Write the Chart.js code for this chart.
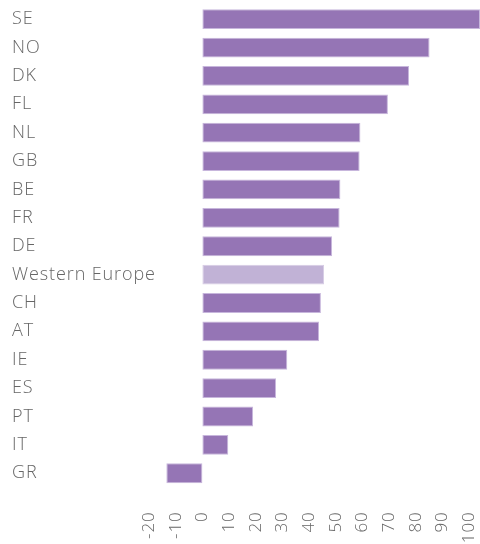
<!DOCTYPE html>
<html>
<head>
<meta charset="utf-8">
<script src="https://cdn.jsdelivr.net/npm/chart.js@4/dist/chart.umd.min.js"></script>
<style>
  html, body { margin: 0; padding: 0; background: #fff; }
  #wrap { width: 480px; height: 544px; position: relative; }
</style>
</head>
<body>
<div id="wrap"><canvas id="c"></canvas></div>
<script>
// Countries ordered from highest to lowest score
const categories = ['SE', 'NO', 'DK', 'FL', 'NL', 'GB', 'BE', 'FR', 'DE', 'Western Europe', 'CH', 'AT', 'IE', 'ES', 'PT', 'IT', 'GR'];
const scores = [104, 85.1, 77.4, 69.5, 59.2, 58.9, 51.7, 51.4, 48.6, 45.6, 44.4, 43.7, 31.8, 27.6, 19.0, 9.7, -13.5];
const xTickValues = [-20, -10, 0, 10, 20, 30, 40, 50, 60, 70, 80, 90, 100];

const barColor = '#9575b5';
const barBorder = '#c7b6dc';
const avgColor = '#c1b2d6';
const avgBorder = '#d6cbe4';

const fillColors = categories.map(c => c === 'Western Europe' ? avgColor : barColor);
const edgeColors = categories.map(c => c === 'Western Europe' ? avgBorder : barBorder);

// Category names are set slightly tracked out; the value axis is drawn without tracking
const tracking = {
  id: 'tracking',
  beforeDraw(chart) { chart.ctx.letterSpacing = '0.9px'; },
  beforeDatasetsDraw(chart) { chart.ctx.letterSpacing = '0px'; }
};

new Chart(document.getElementById('c'), {
  type: 'bar',
  data: {
    labels: categories,
    datasets: [{
      data: scores,
      backgroundColor: fillColors,
      borderColor: edgeColors,
      borderWidth: 1,
      borderSkipped: false,
      barPercentage: 0.7,
      categoryPercentage: 1.0
    }]
  },
  plugins: [tracking],
  options: {
    indexAxis: 'y',
    responsive: true,
    maintainAspectRatio: false,
    animation: false,
    layout: { padding: { left: 12, right: 0, top: 5, bottom: 1.5 } },
    plugins: {
      legend: { display: false },
      tooltip: { enabled: false }
    },
    scales: {
      x: {
        z: 1,
        min: -20,
        max: 104,
        grid: { display: false, drawTicks: true, tickLength: 22 },
        border: { display: false },
        afterBuildTicks: (axis) => {
          axis.ticks = xTickValues.map(v => ({ value: v }));
        },
        afterFit: (axis) => {
          // let the plot run to the canvas edges
          axis.paddingLeft = 0;
          axis.paddingRight = 0;
        },
        ticks: {
          minRotation: 90,
          maxRotation: 90,
          padding: 2,
          color: '#666',
          font: { family: 'Open Sans', size: 17, weight: 300 }
        }
      },
      y: {
        z: 0,
        grid: { display: false, drawTicks: false },
        border: { display: false },
        afterFit: (axis) => {
          axis.width = 137;
          axis.paddingTop = 0;
          axis.paddingBottom = 0;
          // long names may run past the axis box, so draw labels unclipped
          axis._computeLabelArea = () => undefined;
        },
        ticks: {
          crossAlign: 'far',
          padding: 0,
          color: '#666',
          font: { family: 'Open Sans', size: 18, weight: 300 }
        }
      }
    }
  }
});
</script>
</body>
</html>
